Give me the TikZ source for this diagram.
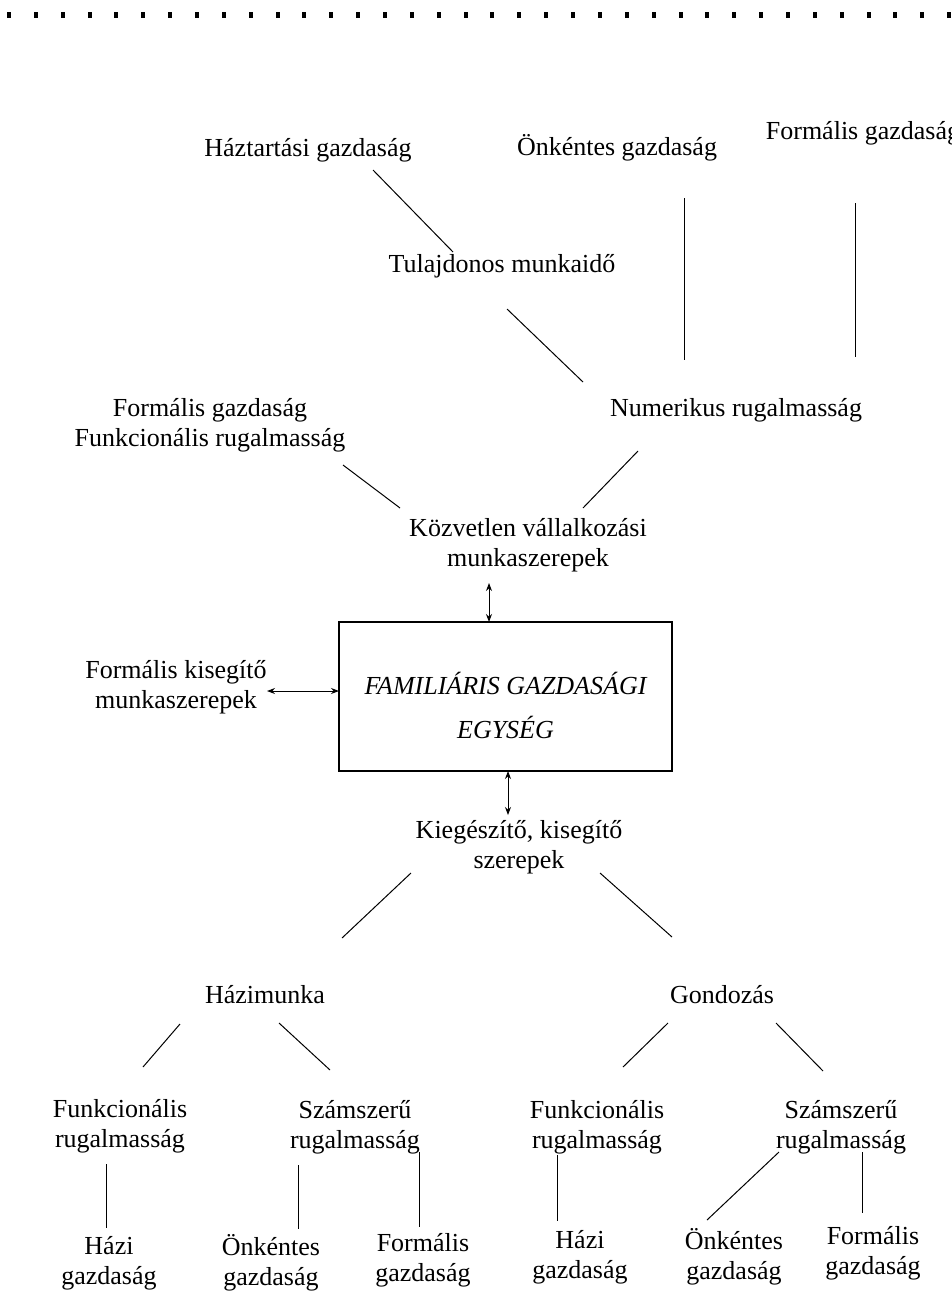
\documentclass[tikz,border=0pt]{standalone}
\usepackage{fontspec}
\setmainfont{Liberation Serif}
\usetikzlibrary{arrows.meta}
\begin{document}
\begin{tikzpicture}[x=1pt,y=-1pt,
  lbl/.style={inner sep=0pt,align=center,font=\fontsize{26}{30}\selectfont},
  conn/.style={line width=1pt},
  biarrow/.style={line width=1pt,{Stealth[length=8pt,width=6pt]}-{Stealth[length=8pt,width=6pt]}},
  dotmark/.style={fill=black,draw=none,minimum width=4pt,minimum height=6pt,inner sep=0pt},
  mainbox/.style={draw,line width=1.2pt,minimum width=333pt,minimum height=149pt,inner sep=0pt}]
\useasboundingbox (0,0) rectangle (952,1293);
\clip (0,0) rectangle (952,1293);
\foreach \i in {0,...,35} \node[dotmark] (d\i) at (9+26.86*\i,15) {};
% top level
\node[lbl] (hazt) at (308,150) {Háztartási gazdaság};
\node[lbl] (onk) at (617,148) {Önkéntes gazdaság};
\node[lbl] (formT) at (863,133) {Formális gazdaság};
\node[lbl] (tulaj) at (502,266) {Tulajdonos munkaidő};
\node[lbl] (num) at (736,410) {Numerikus rugalmasság};
\node[lbl] (ffr) at (210,425) {Formális gazdaság\\Funkcionális rugalmasság};
\node[lbl] (kozv) at (528,545) {Közvetlen vállalkozási\\munkaszerepek};
\node[mainbox,label={[lbl,font=\fontsize{26}{44}\selectfont\itshape,yshift=-9pt]center:{FAMILIÁRIS GAZDASÁGI\\EGYSÉG}}] (box) at (505.5,696.5) {};
\node[lbl] (fks) at (176,687) {Formális kisegítő\\munkaszerepek};
\node[lbl] (kieg) at (519,847) {Kiegészítő, kisegítő\\szerepek};
\node[lbl] (hazim) at (265,995) {Házimunka};
\node[lbl] (gond) at (722,995) {Gondozás};
\node[lbl] (f1) at (120,1126) {Funkcionális\\rugalmasság};
\node[lbl] (s1) at (355,1127) {Számszerű\\rugalmasság};
\node[lbl] (f2) at (597,1127) {Funkcionális\\rugalmasság};
\node[lbl] (s2) at (841,1127) {Számszerű\\rugalmasság};
\node[lbl] (b1) at (109,1263) {Házi\\gazdaság};
\node[lbl] (b2) at (271,1263) {Önkéntes\\gazdaság};
\node[lbl] (b3) at (423,1260) {Formális\\gazdaság};
\node[lbl] (b4) at (580,1257) {Házi\\gazdaság};
\node[lbl] (b5) at (734,1257) {Önkéntes\\gazdaság};
\node[lbl] (b6) at (873,1253) {Formális\\gazdaság};
% connectors
\draw[conn] ([shift={(65,20)}]hazt.center) -- ([shift={(-49,-14)}]tulaj.center);
\draw[conn] ([shift={(5,43)}]tulaj.center) -- ([shift={(-153,-28)}]num.center);
\draw[conn] ([shift={(67,50)}]onk.center) -- ([shift={(-52,-50)}]num.center);
\draw[conn] ([shift={(-8,70)}]formT.center) -- ([shift={(119,-53)}]num.center);
\draw[conn] ([shift={(133,40)}]ffr.center) -- ([shift={(-128,-37)}]kozv.center);
\draw[conn] ([shift={(-98,41)}]num.center) -- ([shift={(55,-37)}]kozv.center);
\draw[biarrow] ([shift={(-39,38)}]kozv.center) -- ([shift={(-16.5,-74.5)}]box.center);
\draw[biarrow] ([shift={(91,4)}]fks.center) -- ([shift={(-166.5,-5.5)}]box.center);
\draw[biarrow] ([shift={(2.5,74.5)}]box.center) -- ([shift={(-11,-32)}]kieg.center);
\draw[conn] ([shift={(-108,26)}]kieg.center) -- ([shift={(77,-57)}]hazim.center);
\draw[conn] ([shift={(81,26)}]kieg.center) -- ([shift={(-50,-58)}]gond.center);
\draw[conn] ([shift={(-85,29)}]hazim.center) -- ([shift={(23,-59)}]f1.center);
\draw[conn] ([shift={(14,28)}]hazim.center) -- ([shift={(-25,-57)}]s1.center);
\draw[conn] ([shift={(-54,28)}]gond.center) -- ([shift={(26,-60)}]f2.center);
\draw[conn] ([shift={(54,28)}]gond.center) -- ([shift={(-18,-56)}]s2.center);
\draw[conn] ([shift={(-14,38)}]f1.center) -- ([shift={(-3,-35)}]b1.center);
\draw[conn] ([shift={(-57,38)}]s1.center) -- ([shift={(27,-34)}]b2.center);
\draw[conn] ([shift={(64,25)}]s1.center) -- ([shift={(-4,-33)}]b3.center);
\draw[conn] ([shift={(-40,28)}]f2.center) -- ([shift={(-23,-36)}]b4.center);
\draw[conn] ([shift={(-62,25)}]s2.center) -- ([shift={(-27,-37)}]b5.center);
\draw[conn] ([shift={(21,25)}]s2.center) -- ([shift={(-11,-40)}]b6.center);
\end{tikzpicture}
\end{document}
